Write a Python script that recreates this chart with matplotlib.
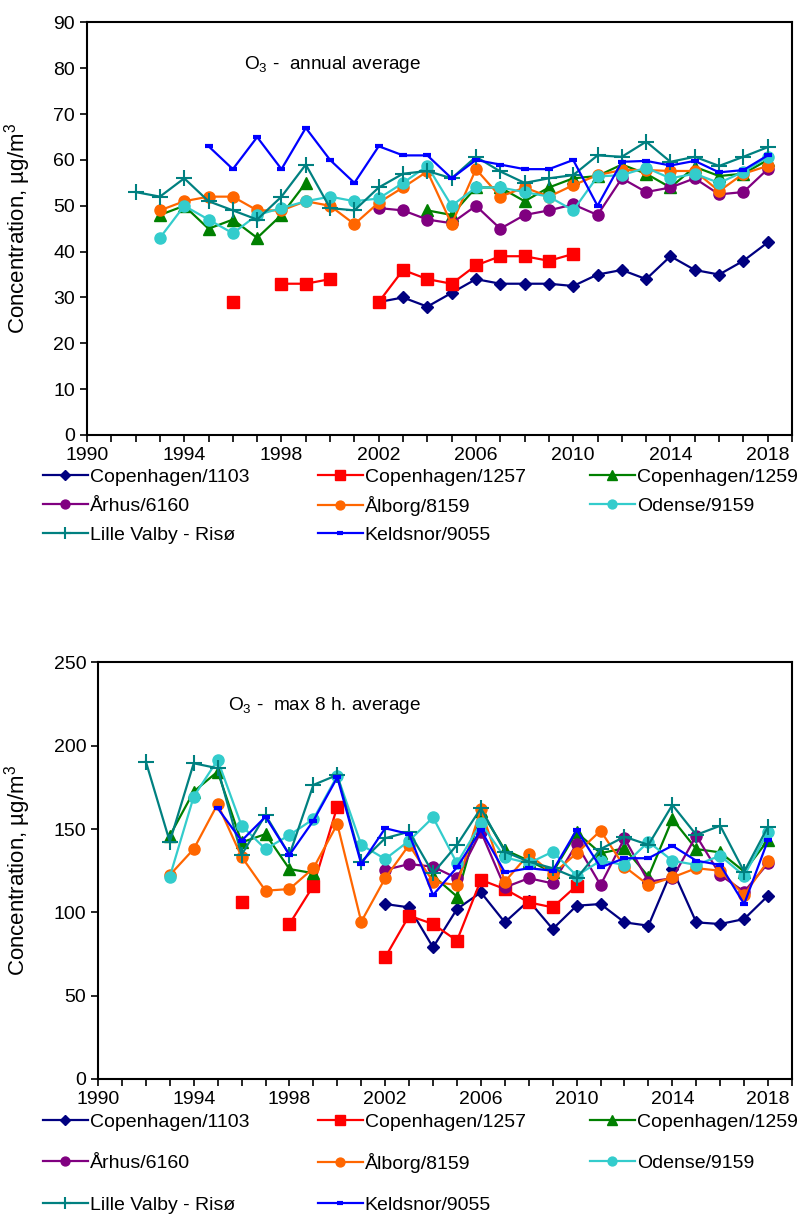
import numpy as np
import matplotlib
matplotlib.use("Agg")
import matplotlib.pyplot as plt
from matplotlib.ticker import MultipleLocator

plt.rcParams['font.family'] = ['Liberation Sans', 'DejaVu Sans']
plt.rcParams['mathtext.fontset'] = 'custom'
plt.rcParams['mathtext.rm'] = 'Liberation Sans'

years = np.arange(1992, 2019)
nan = np.nan

labels = ["Copenhagen/1103", "Copenhagen/1257", "Copenhagen/1259", "Århus/6160",
          "Ålborg/8159", "Odense/9159", "Lille Valby - Risø", "Keldsnor/9055"]

# annual average, 1992-2018
ann_cph1103 = [nan]*10 + [29, 30, 28, 31, 34, 33, 33, 33, 32.5, 35, 36, 34, 39, 36, 35, 38, 42]
ann_cph1257 = [nan]*4 + [29, nan, 33, 33, 34, nan, 29, 36, 34, 33, 37, 39, 39, 38, 39.5] + [nan]*8
ann_cph1259 = [nan, 48, 50, 45, 47, 43, 48, 55, nan, nan, nan, nan, 49, 48, 54, 54, 51, 54,
               56, 56.5, 59, 57, 54, 58.5, 56.5, 57, 60]
ann_aarhus = [nan]*10 + [49.5, 49, 47, 46.2, 50, 45, 48, 49, 50.3, 48, 56, 53, 54, 56, 52.5, 53, 58]
ann_aalborg = [nan, 49, 51, 52, 52, 49, 49, 51, 50, 46, 50.7, 54, 57.5, 46, 58, 52, 54, 52,
               54.5, 56.7, 57.8, 57.8, 57.6, 57.6, 53.2, 57, 58.7]
ann_odense = [nan, 43, 50, 47, 44, 48, 49.5, 51, 52, 51, 51.6, 55, 58.7, 50, 54, 54, 53, 52,
              49, 56.4, 56.7, 58.3, 56, 57, 55, 57.4, 60.7]
ann_lille = [53, 52, 56, 51, 49, 47, 52, 59, 49.5, 49, 54, 57, 57.6, 56, 60.7, 57.5, 55, 56,
             56.7, 61, 60.7, 64, 59.6, 60.7, 58.7, 60.7, 62.8]
ann_keld = [nan, nan, nan, 63, 58, 65, 58, 67, 60, 55, 63, 61, 61, 56, 60, 59, 58, 58,
            60, 50, 59.6, 59.8, 58.8, 59.8, 57.3, 57.8, 61]

# max 8 h. average, 1992-2018
max_cph1103 = [nan]*10 + [105, 103, 79, 102, 112, 94, 107, 90, 104, 105, 94, 92, 126, 94, 93, 96, 110]
max_cph1257 = [nan]*4 + [106, nan, 93, 116, 163.5, nan, 73, 98, 93, 83, 119.5, 114, 106, 103, 116] + [nan]*8
max_cph1259 = [nan, 146, 172.5, 184.5, 142, 147, 126, 123.5, nan, nan, nan, nan, 122, 109.5,
               161, 137.5, 131, 124, 148, 135.5, 138.5, 121.5, 156, 138, 136, 124.5, 143.5]
max_aarhus = [nan]*10 + [125.5, 129, 127.4, 120.5, 148.4, 115, 120.5, 117.4, 141, 116.4, 144.5,
                         118.4, 120.5, 146, 122.4, 112.4, 129.5]
max_aalborg = [nan, 122.4, 138, 165, 133.4, 113, 114, 126.5, 153, 94.4, 120.5, 140.5, 118.4, 116.4,
               162, 118.4, 135, 123, 135.5, 149, 127.4, 116.4, 121, 126.5, 125, 110.4, 131]
max_odense = [nan, 121.4, 169.5, 191.5, 152, 138, 146.4, 156, 182, 140.5, 132, 143, 157, 129.5,
              153.5, 133, 129.5, 136.4, 122, 131, 128.5, 142.4, 131, 128.5, 134, 122, 148.4]
max_lille = [190.5, 142.4, 189.5, 186.5, 134.5, 158.5, 134.5, 176.5, 182.5, 130.4, 144.5, 148.4,
             123.5, 140.5, 162.5, 136.4, 130.4, 126.5, 120.5, 138, 145.4, 140.5, 164.5, 146.5,
             152, 124.4, 151.5]
max_keld = [nan, nan, nan, 162.5, 143, 157.4, 134.5, 155, 181, 129, 150.5, 147, 110.4, 127,
            149.5, 124, 126.5, 125, 149.5, 127, 132.5, 132.5, 140, 131, 128.5, 105, 143.5]

styles = [
    dict(color='#000080', marker='D', ms=6.5),
    dict(color='#FF0000', marker='s', ms=9),
    dict(color='#008000', marker='^', ms=8.5),
    dict(color='#800080', marker='o', ms=8),
    dict(color='#FF6600', marker='o', ms=8),
    dict(color='#33CCCC', marker='o', ms=8),
    dict(color='#008080', marker='+', ms=11, mew=1.5),
    dict(color='#0000FF', marker='_', ms=6, mew=3),
]

fig = plt.figure(figsize=(7.98, 12.16), dpi=100)
ax1 = fig.add_axes([0.109, 0.6423, 0.8835, 0.3392])
ax2 = fig.add_axes([0.1228, 0.1127, 0.8697, 0.3425])


def draw(ax, series, ymax, ystep, title, tx):
    handles = []
    for vals, st in zip(series, styles):
        h, = ax.plot(years, np.array(vals, dtype=float), lw=1.6, **st)
        handles.append(h)
    ax.set_xlim(1990, 2019)
    ax.set_ylim(0, ymax)
    ax.xaxis.set_minor_locator(MultipleLocator(1))
    ax.yaxis.set_major_locator(MultipleLocator(ystep))
    ax.set_xticks(np.arange(1990, 2019, 4))
    ax.tick_params(axis='both', which='both', direction='out', length=5, width=1.2,
                   labelsize=14, colors='black')
    for s in ax.spines.values():
        s.set_linewidth(1.5)
    ax.set_ylabel('Concentration, µg/m$^\\mathregular{3}$', fontsize=16)
    ax.text(tx, 0.897, title, transform=ax.transAxes, fontsize=13.7, ha='center', va='center')
    return handles


h1 = draw(ax1, [ann_cph1103, ann_cph1257, ann_cph1259, ann_aarhus, ann_aalborg, ann_odense,
                ann_lille, ann_keld], 90, 10, 'O$_\\mathregular{3}$ -  annual average', 0.348)
h2 = draw(ax2, [max_cph1103, max_cph1257, max_cph1259, max_aarhus, max_aalborg, max_odense,
                max_lille, max_keld], 250, 50, 'O$_\\mathregular{3}$ -  max 8 h. average', 0.327)
ax1.yaxis.set_label_coords(-0.077, 0.5)
ax2.yaxis.set_label_coords(-0.094, 0.5)

# legend entries in reading order: three columns, rows placed by pixel position
col_x = [43, 318, 590]


def legend_block(handles, row_y):
    for i, h in enumerate(handles):
        x = col_x[i % 3] / 798
        y = 1 - row_y[i // 3] / 1216
        fig.legend([h], [labels[i]], loc='center left', bbox_to_anchor=(x, y),
                   frameon=False, fontsize=14, handlelength=2.3, handletextpad=0.1,
                   borderpad=0, borderaxespad=0, markerscale=0.8)


legend_block(h1, [477, 506, 535])
legend_block(h2, [1122, 1163, 1205])

fig.savefig('out.png', dpi=100)
